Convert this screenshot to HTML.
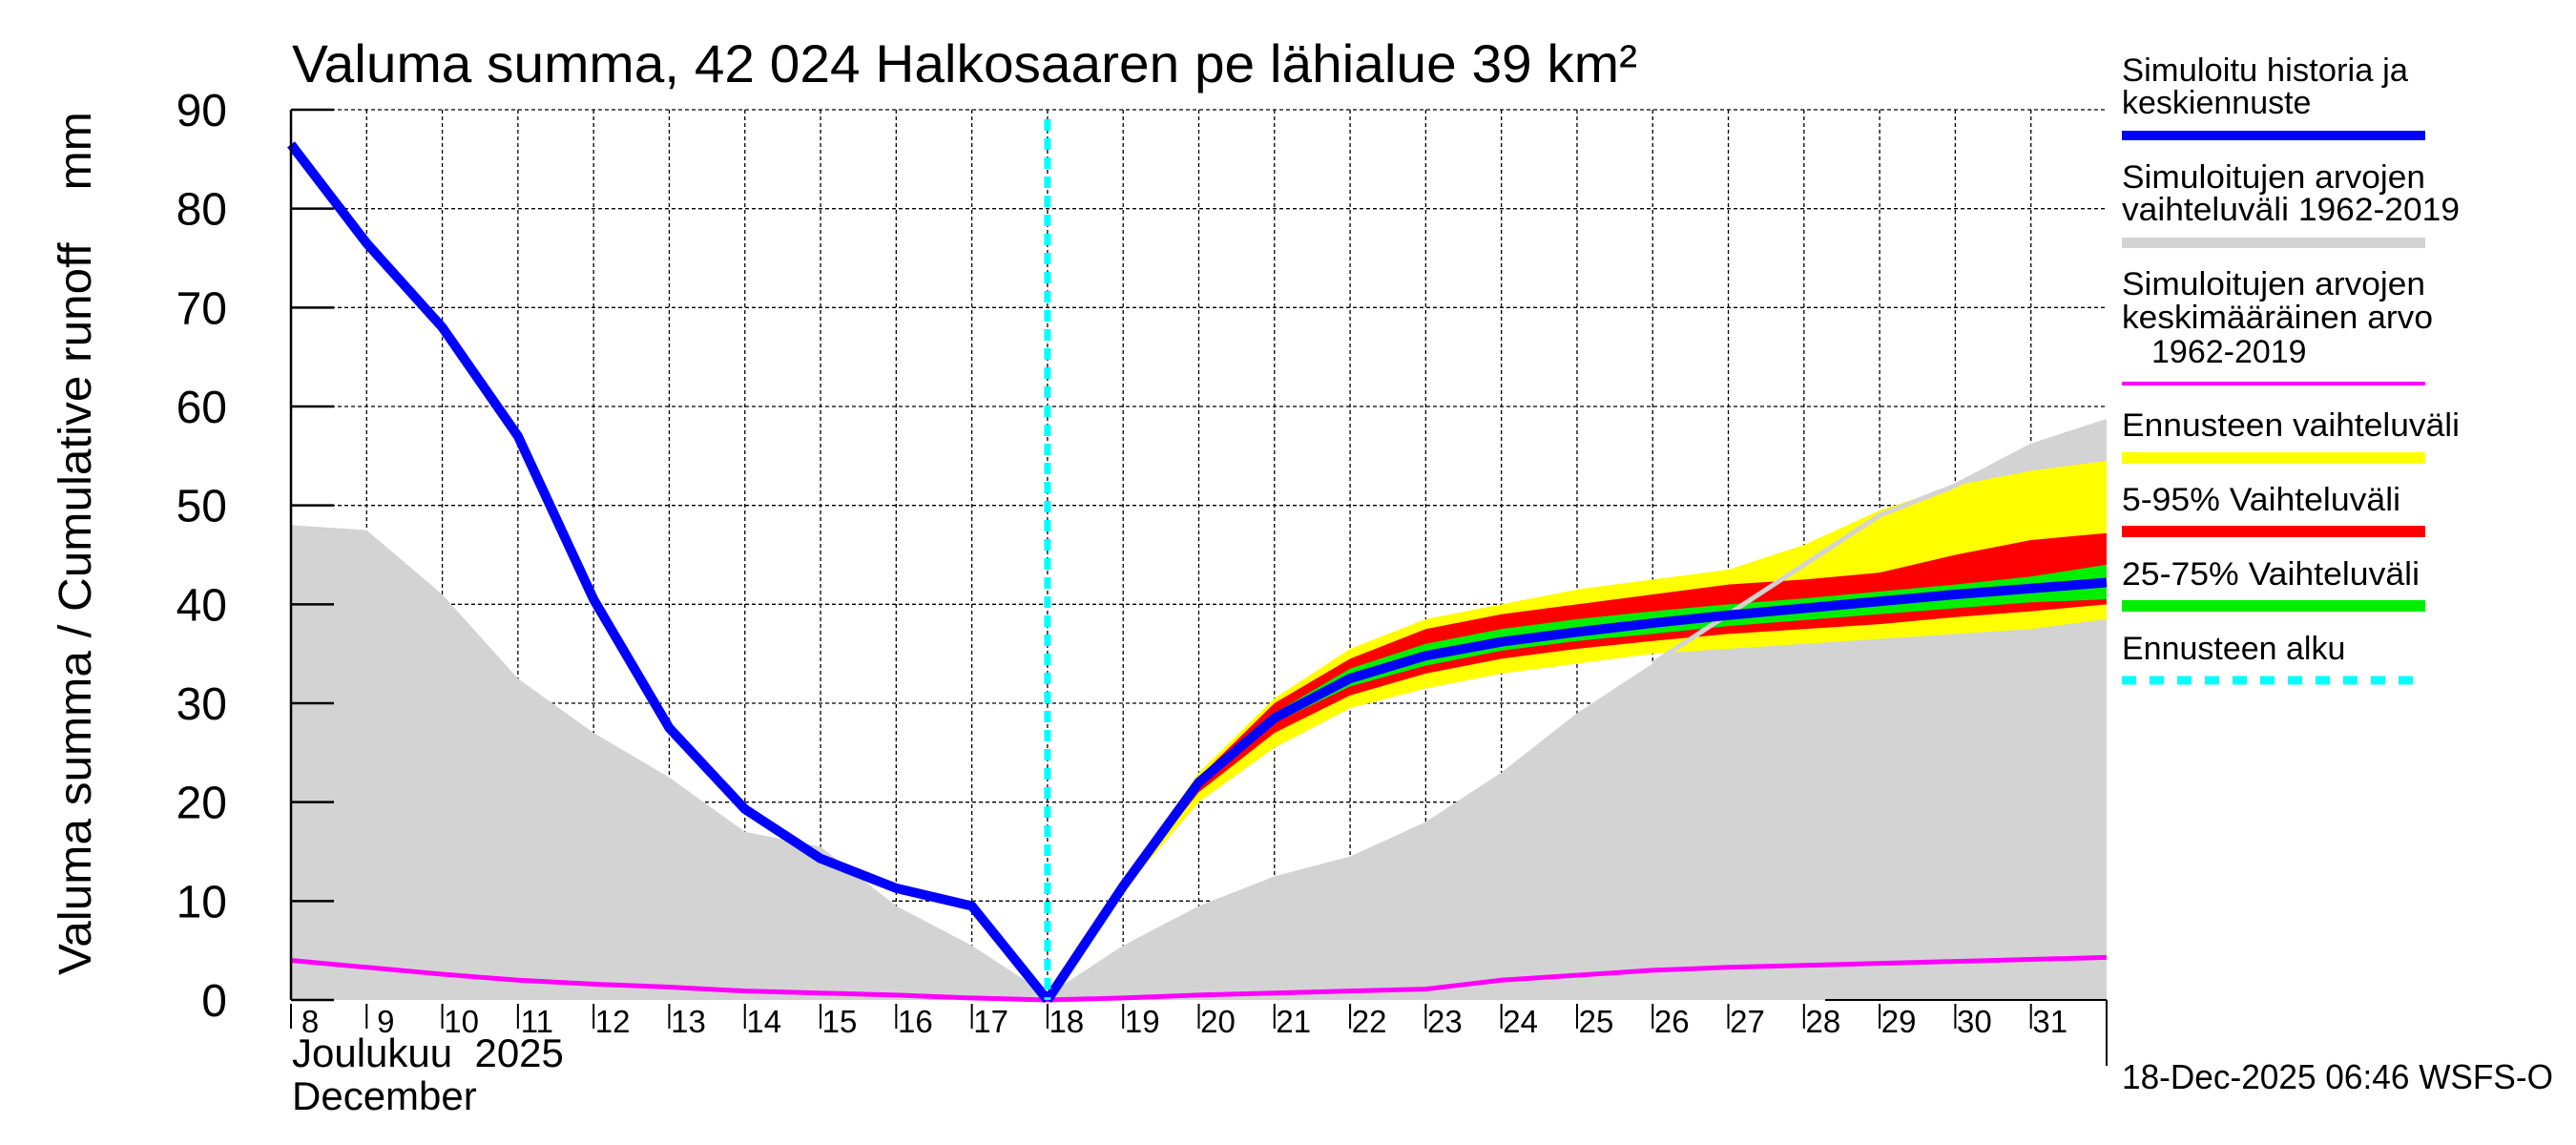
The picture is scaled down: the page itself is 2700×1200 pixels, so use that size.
<!DOCTYPE html>
<html><head><meta charset="utf-8"><style>
html,body{margin:0;padding:0;background:#fff;}
svg{display:block;font-family:"Liberation Sans",sans-serif;}
text{white-space:pre;}
</style></head><body>
<svg id="chart" width="2700" height="1200" viewBox="0 0 2700 1200" xmlns="http://www.w3.org/2000/svg" xml:space="preserve">
<text x="306" y="86" font-size="56" textLength="1410" lengthAdjust="spacingAndGlyphs">Valuma summa, 42 024 Halkosaaren pe lähialue 39 km²</text>
<text transform="translate(95,1022) rotate(-90)" font-size="48" textLength="905" lengthAdjust="spacingAndGlyphs">Valuma summa / Cumulative runoff    mm</text>
<g id="grid"></g>
<g id="marks"></g>
<g id="axes"></g>
<text x="306" y="1118" font-size="42">Joulukuu  2025</text>
<text x="306" y="1163" font-size="42">December</text>
<g font-size="34">
<text x="2224" y="85" textLength="300" lengthAdjust="spacingAndGlyphs">Simuloitu historia ja</text>
<text x="2224" y="119">keskiennuste</text>
<rect x="2224" y="137" width="318" height="10" fill="#0000ff"/>
<text x="2224" y="197" textLength="318" lengthAdjust="spacingAndGlyphs">Simuloitujen arvojen</text>
<text x="2224" y="231" textLength="354" lengthAdjust="spacingAndGlyphs">vaihteluväli 1962-2019</text>
<rect x="2224" y="249" width="318" height="11" fill="#d3d3d3"/>
<text x="2224" y="309" textLength="318" lengthAdjust="spacingAndGlyphs">Simuloitujen arvojen</text>
<text x="2224" y="344" textLength="326" lengthAdjust="spacingAndGlyphs">keskimääräinen arvo</text>
<text x="2255" y="380">1962-2019</text>
<rect x="2224" y="400" width="318" height="4" fill="#ff00ff"/>
<text x="2224" y="457" textLength="354" lengthAdjust="spacingAndGlyphs">Ennusteen vaihteluväli</text>
<rect x="2224" y="474" width="318" height="12" fill="#ffff00"/>
<text x="2224" y="535" textLength="292" lengthAdjust="spacingAndGlyphs">5-95% Vaihteluväli</text>
<rect x="2224" y="551" width="318" height="12" fill="#ff0000"/>
<text x="2224" y="613" textLength="312" lengthAdjust="spacingAndGlyphs">25-75% Vaihteluväli</text>
<rect x="2224" y="629" width="318" height="12" fill="#00ee00"/>
<text x="2224" y="691">Ennusteen alku</text>
<line x1="2224" y1="713" x2="2542" y2="713" stroke="#00ffff" stroke-width="9" stroke-dasharray="15 14"/>
</g>
<text x="2224" y="1141" font-size="36" textLength="452" lengthAdjust="spacingAndGlyphs">18-Dec-2025 06:46 WSFS-O</text>
<script>
const days = [8,9,10,11,12,13,14,15,16,17,18,19,20,21,22,23,24,25,26,27,28,29,30,31,32];
const historyVals = [86.5,76.5,68,57,40.5,27.5,19.3,14.3,11.3,9.5,0];
const forecastDays = [18,19,20,21,22,23,24,25,26,27,28,29,30,31,32];
const forecastMean = [0,11.5,22,28.5,32.5,34.8,36.2,37.2,38.1,38.9,39.6,40.3,41,41.6,42.2];
const grayUpper = [48,47.5,41,32.5,27,22.5,17,15.5,9.5,5.5,0.5,5.5,9.5,12.5,14.5,18,23,29,34,39,44,49,52,56,58.5];
const meanVals = [4,3.3,2.6,2,1.6,1.3,0.9,0.7,0.5,0.2,0,0.2,0.5,0.7,0.9,1.1,2,2.5,3,3.3,3.5,3.7,3.9,4.1,4.3];
const yellowUp = [0,12,23,30.5,35.5,38.5,40,41.5,42.5,43.5,46,49.5,52,53.5,54.5];
const yellowLo = [0,11,20,25.5,29.5,31.5,33,34,35,35.5,36,36.5,37,37.5,38.5];
const redUp = [0,11.8,22.5,30,34.5,37.5,39,40,41,42,42.5,43.2,45,46.5,47.2];
const redLo = [0,11.3,21,27,30.8,33,34.5,35.5,36.3,37,37.5,38,38.7,39.3,40];
const greenUp = [0,11.7,22.3,29,33.5,36,37.5,38.5,39.3,40,40.6,41.3,42,42.8,44];
const greenLo = [0,11.4,21.5,28,31.7,33.8,35.3,36.3,37,37.8,38.4,39,39.6,40.2,40.5];
const yTicks = [0,10,20,30,40,50,60,70,80,90];
const xTickLabels = ["8","9","10","11","12","13","14","15","16","17","18","19","20","21","22","23","24","25","26","27","28","29","30","31"];
const forecastStart = 18;

const X0=305, X1=2208, Y0=1048, Y1=115;
const xs = d => X0 + (d-8)*(X1-X0)/24;
const ys = v => Y0 - v*(Y0-Y1)/90;
const NS="http://www.w3.org/2000/svg";
function mk(parent, tag, attrs){const e=document.createElementNS(NS,tag);for(const k in attrs)e.setAttribute(k,attrs[k]);parent.appendChild(e);return e;}
const grid=document.getElementById('grid'), marks=document.getElementById('marks'), axes=document.getElementById('axes');

yTicks.forEach(t=>{ if(t>0){const l=mk(grid,'line',{x1:X0,x2:X1,y1:ys(t),y2:ys(t),stroke:'#000','stroke-width':1.3,'stroke-dasharray':'4 3'});

}});
xTickLabels.forEach((s,i)=>{ const d=8+i; if(i>0){const l=mk(grid,'line',{x1:xs(d),x2:xs(d),y1:Y1,y2:Y0,stroke:'#000','stroke-width':1.3,'stroke-dasharray':'4 3'});

}});

function band(up,lo,dx,fill,name){
  let p=dx.map((d,i)=>xs(d)+','+ys(up[i]));
  for(let i=dx.length-1;i>=0;i--)p.push(xs(dx[i])+','+ys(lo[i]));
  const e=mk(marks,'polygon',{points:p.join(' '),fill:fill});
  
  
}
function line(vals,dx,color,w,name){
  const e=mk(marks,'polyline',{points:dx.map((d,i)=>xs(d)+','+ys(vals[i])).join(' '),fill:'none',stroke:color,'stroke-width':w,'stroke-linejoin':'round'});
  
  
}
band(grayUpper,days.map(()=>0),days,'#d3d3d3','historical-range-band');
band(yellowUp,yellowLo,forecastDays,'#ffff00','forecast-range-band');
band(redUp,redLo,forecastDays,'#ff0000','band-5-95');
band(greenUp,greenLo,forecastDays,'#00ee00','band-25-75');
line(grayUpper.slice(18),days.slice(18),'#d3d3d3',5,'historical-range-edge');
line(meanVals,days,'#ff00ff',5,'historical-mean-line');
line(historyVals,days.slice(0,11),'#0000ff',10,'simulated-history-line');
line(forecastMean,forecastDays,'#0000ff',10,'forecast-mean-line');
const cy=mk(marks,'line',{x1:xs(forecastStart),x2:xs(forecastStart),y1:Y1+10,y2:Y0,stroke:'#00ffff','stroke-width':7,'stroke-dasharray':'12 8'});



mk(axes,'line',{x1:X0,x2:X0,y1:Y1,y2:Y0,stroke:'#000','stroke-width':2.5});
mk(axes,'line',{x1:1913,x2:X1,y1:Y0,y2:Y0,stroke:'#000','stroke-width':2});
mk(axes,'line',{x1:X1,x2:X1,y1:Y0,y2:1117,stroke:'#000','stroke-width':2});
yTicks.forEach(t=>{
  mk(axes,'line',{x1:X0,x2:X0+45,y1:ys(t),y2:ys(t),stroke:'#000','stroke-width':2.5});
  const tx=mk(axes,'text',{x:238,y:ys(t)+17,'font-size':48,'text-anchor':'end'});
  tx.textContent=t;
  
  
});
xTickLabels.forEach((s,i)=>{
  const d=8+i;
  mk(axes,'line',{x1:xs(d),x2:xs(d),y1:Y0+4,y2:Y0+30,stroke:'#000','stroke-width':2});
  const tx=mk(axes,'text',{x:xs(d)+20,y:1082,'font-size':33,'text-anchor':'middle'});
  tx.textContent=s;
  
  
});
</script>
</svg>
</body></html>
